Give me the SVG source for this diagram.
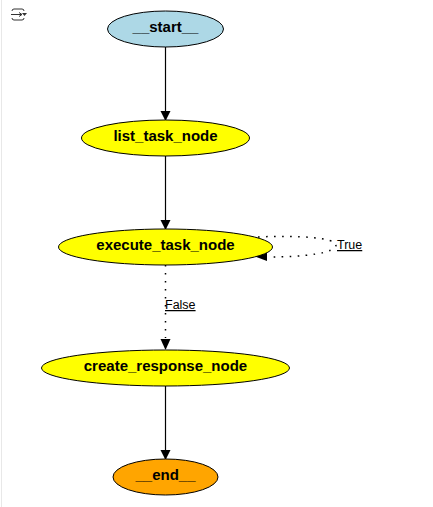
<svg xmlns="http://www.w3.org/2000/svg" width="433" height="507" viewBox="0 0 433 507">
<style>
.n{stroke:#000;stroke-width:1}
.t{font-family:"Liberation Sans",Arial,sans-serif;font-weight:bold;font-size:15px;text-anchor:middle;fill:#000}
.e{fill:none;stroke:#000;stroke-width:1.2}
.d{fill:none;stroke:#000;stroke-width:1.5;stroke-dasharray:1.6 6.4}
.l{font-family:"Liberation Sans",Arial,sans-serif;font-size:12.500px;fill:#000;text-decoration:underline}
.i{fill:none;stroke:#333;stroke-width:1}
</style>
<defs>
<marker id="a" markerUnits="userSpaceOnUse" markerWidth="10" markerHeight="14" refX="9" refY="5" orient="auto"><path d="M0 0L10 5L0 10Z" fill="#000"/></marker>
</defs>
<rect width="433" height="507" fill="#fff"/>
<path d="M1.500 0V507" stroke="#e8e8e8" stroke-width="1" fill="none"/>
<g id="toggle">
<path class="i" d="M12 11Q12 9 14 9H22Q24 9 24 11M11 14.500H22M19 12.500L22 14.500L19 16.500M12 18Q12 20 14 20H22Q24 20 24 18"/>
<path d="M22 13H27L24.500 16Z" fill="#333"/>
</g>
<g id="connectors">
<path class="e" marker-end="url(#a)" d="M165.500 47V120"/>
<path class="e" marker-end="url(#a)" d="M165.500 156V229"/>
<path class="d" d="M258 237C300 235 336 238 336 245C336 253 305 257 268 257"/>
<path d="M267 252.500L255 256.500L267 261Z" fill="#000"/>
<path class="d" d="M165.500 265V338"/>
<path d="M160.500 339H170.500L165.500 350Z" fill="#000"/>
<path class="e" marker-end="url(#a)" d="M165.500 386V459"/>
<text class="l" x="337" y="249">True</text>
<text class="l" x="165" y="309">False</text>
</g>
<g id="start"><ellipse class="n" cx="165.500" cy="29" rx="58" ry="18" fill="#add8e6"/><text class="t" x="165.500" y="31.500">__start__</text></g>
<g id="list_task_node"><ellipse class="n" cx="165.500" cy="138" rx="84" ry="18" fill="#ff0"/><text class="t" x="165.500" y="140.500">list_task_node</text></g>
<g id="execute_task_node"><ellipse class="n" cx="165.500" cy="247" rx="107" ry="18" fill="#ff0"/><text class="t" x="165.500" y="249.500">execute_task_node</text></g>
<g id="create_response_node"><ellipse class="n" cx="165.500" cy="368" rx="124" ry="18" fill="#ff0"/><text class="t" x="165.500" y="371">create_response_node</text></g>
<g id="end"><ellipse class="n" cx="165.500" cy="477" rx="52.500" ry="18" fill="#ffa500"/><text class="t" x="165.500" y="480">__end__</text></g>
</svg>
